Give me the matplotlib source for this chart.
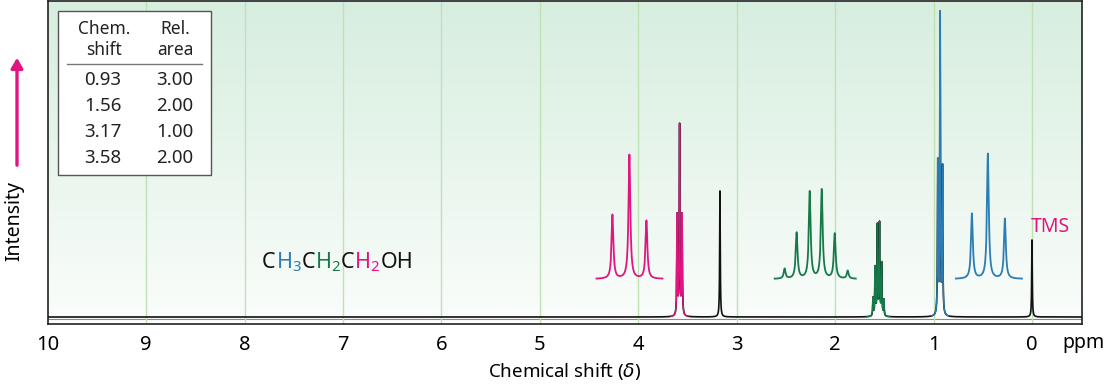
import numpy as np
import matplotlib
matplotlib.use('Agg')
from matplotlib import pyplot as plt
from matplotlib.patches import Rectangle, FancyArrowPatch
from matplotlib.colors import LinearSegmentedColormap
from matplotlib.offsetbox import TextArea, HPacker, AnnotationBbox

plt.rcParams['font.family'] = ['Noto Sans', 'DejaVu Sans']
plt.rcParams['mathtext.fontset'] = 'dejavusans'

MAGENTA = '#e0157f'
GREEN = '#17794a'
BLUE = '#2b7db4'
BLACK = '#111111'

# main spectrum lines: (ppm, height) -- heights in arbitrary units
tms_pos = [0.0]
tms_h = [77]
ch3_pos = [0.957, 0.933, 0.909]
ch3_h = [152, 300, 146]
ch2_pos = [1.615, 1.593, 1.571, 1.549, 1.527, 1.505]
ch2_h = [18, 48, 90, 92, 52, 16]
oh_pos = [3.17]
oh_h = [126]
och2_pos = [3.605, 3.58, 3.555]
och2_h = [100, 190, 100]

# expanded multiplets (inset traces)
ins_och2_range = (4.425, 3.754)
ins_och2_pos = [4.262, 4.09, 3.917]
ins_och2_h = [64, 124, 58]
ins_ch2_range = (2.614, 1.790)
ins_ch2_pos = [2.513, 2.391, 2.258, 2.136, 2.004, 1.872]
ins_ch2_h = [10, 46, 87, 89, 45, 8]
ins_ch3_range = (0.773, 0.102)
ins_ch3_pos = [0.610, 0.448, 0.275]
ins_ch3_h = [65, 125, 60]
inset_base = 38

tick_vals = [10, 9, 8, 7, 6, 5, 4, 3, 2, 1, 0]
table_shift = ['0.93', '1.56', '3.17', '3.58']
table_area = ['3.00', '2.00', '1.00', '2.00']


def lorentz(x, pos, h, w):
    y = np.zeros_like(x)
    for p, a in zip(pos, h):
        y += a * w**2 / ((x - p)**2 + w**2)
    return y


W, H = 1105, 386


def fx(px):
    return px / W


def fy(py):
    return 1 - py / H


fig = plt.figure(figsize=(W / 100, H / 100), dpi=100)
ax = fig.add_axes([fx(47.7), fy(324), (1081.7 - 47.7) / W, 323.5 / H])
xmin, xmax = 10.0, -0.505
ymin, ymax = -7, 316.5
ax.set_xlim(xmin, xmax)
ax.set_ylim(ymin, ymax)

# background gradient
cmap = LinearSegmentedColormap.from_list('bg', ['#fafdfb', '#e8f5ec', '#d7eedf'])
grad = np.linspace(0, 1, 256).reshape(-1, 1)
ax.imshow(grad, extent=(xmin, xmax, -2, ymax), origin='lower', aspect='auto',
          cmap=cmap, zorder=0)
ax.axhline(-2, color='#8a8a8a', lw=0.8, zorder=1)
for t in range(0, 10):
    ax.axvline(t, color='#bfe2b5', lw=1.0, zorder=1)

# main trace
x = np.linspace(xmax, xmin, 40000)
w = 0.0035
groups = [(tms_pos, tms_h, BLACK), (ch3_pos, ch3_h, BLUE), (ch2_pos, ch2_h, GREEN),
          (oh_pos, oh_h, BLACK), (och2_pos, och2_h, MAGENTA)]
total = np.zeros_like(x)
for pos, h, c in groups:
    total += lorentz(x, pos, h, w)
ax.plot(x, total, color=BLACK, lw=1.2, zorder=3)
for pos, h, c in groups:
    if c == BLACK:
        continue
    lo, hi = min(pos) - 0.06, max(pos) + 0.06
    m = (x >= lo) & (x <= hi)
    ax.plot(x[m], total[m], color=c, lw=1.0, zorder=4)

# inset traces
for rng, pos, h, c in [(ins_och2_range, ins_och2_pos, ins_och2_h, MAGENTA),
                       (ins_ch2_range, ins_ch2_pos, ins_ch2_h, GREEN),
                       (ins_ch3_range, ins_ch3_pos, ins_ch3_h, BLUE)]:
    xi = np.linspace(rng[1], rng[0], 3000)
    yi = inset_base + lorentz(xi, pos, h, 0.011)
    ax.plot(xi, yi, color=c, lw=1.3, zorder=4)

ax.set_xticks(tick_vals)
ax.set_xticklabels([str(t) for t in tick_vals])
ax.set_yticks([])
ax.tick_params(axis='x', length=0, pad=8, labelsize=14.5)
for s in ax.spines.values():
    s.set_color('#222222')
    s.set_linewidth(1.2)
ax.set_xlabel('Chemical shift ($\\delta$)', fontsize=13.5, labelpad=4)

fig.text(fx(1062), fy(343), 'ppm', fontsize=14, va='center', ha='left')
fig.text(fx(14), fy(221), 'Intensity', fontsize=14, rotation=90,
         va='center', ha='center')
fig.patches.append(FancyArrowPatch(
    (fx(17), fy(168)), (fx(17), fy(55)), transform=fig.transFigure,
    arrowstyle='-|>,head_length=6,head_width=3.5', color=MAGENTA, lw=2.4,
    mutation_scale=1))

# table
box = Rectangle((fx(58), fy(175)), fx(211) - fx(58), fy(11) - fy(175),
                transform=fig.transFigure, facecolor='white',
                edgecolor='#555555', lw=1.0, zorder=5)
fig.patches.append(box)
hkw = dict(fontsize=12.5, ha='center', va='center', color='#222222', zorder=6)
nkw = dict(hkw, fontsize=13.5)
fig.text(fx(104), fy(29), 'Chem.', **hkw)
fig.text(fx(104), fy(50), 'shift', **hkw)
fig.text(fx(175), fy(29), 'Rel.', **hkw)
fig.text(fx(175), fy(50), 'area', **hkw)
sep = plt.Line2D([fx(67), fx(202)], [fy(64), fy(64)], transform=fig.transFigure,
                 color='#777777', lw=1.0, zorder=6)
fig.lines.append(sep)
row_y = [80, 106, 132, 158]
for yy, a, b in zip(row_y, table_shift, table_area):
    fig.text(fx(103), fy(yy), a, **nkw)
    fig.text(fx(175), fy(yy), b, **nkw)

# formula
chunks = [('C', BLACK), ('$\\mathregular{H_3}$', BLUE), ('C', BLACK),
          ('$\\mathregular{H_2}$', GREEN), ('C', BLACK),
          ('$\\mathregular{H_2}$', MAGENTA), ('OH', BLACK)]
areas = [TextArea(s, textprops=dict(color=c, fontsize=15.5)) for s, c in chunks]
pack = HPacker(children=areas, pad=0, sep=0, align='baseline')
ab = AnnotationBbox(pack, (fx(262), fy(262)), xycoords='figure fraction',
                    box_alignment=(0, 0.5), frameon=False, pad=0)
fig.add_artist(ab)

ax.text(0.01, 90, 'TMS', color=MAGENTA, fontsize=14, ha='left', va='center', zorder=5)

fig.savefig('out.png', dpi=100)
